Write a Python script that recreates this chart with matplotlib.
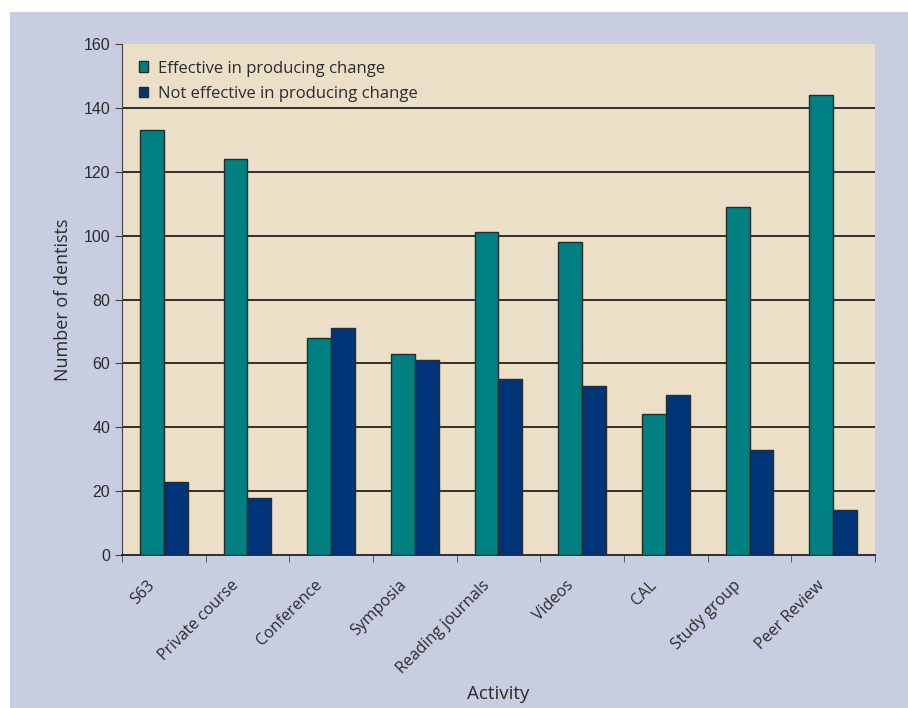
import numpy as np
import matplotlib.pyplot as plt
from matplotlib.patches import Rectangle

activities = ["S63", "Private course", "Conference", "Symposia", "Reading journals",
              "Videos", "CAL", "Study group", "Peer Review"]
effective = [133, 124, 68, 63, 101, 98, 44, 109, 144]
not_effective = [23, 18, 71, 61, 55, 53, 50, 33, 14]
y_ticks = [0, 20, 40, 60, 80, 100, 120, 140, 160]

teal = "#008080"
navy = "#003478"
panel = "#c9cde1"
plot_bg = "#ebdfc8"
text_col = "#2b2b2b"
label_font = ["Open Sans", "DejaVu Sans"]

fig = plt.figure(figsize=(9.08, 7.08), dpi=100)
fig.patch.set_facecolor("white")
fig.patches.append(Rectangle((10 / 908, 0), 1, (708 - 12) / 708,
                             transform=fig.transFigure, facecolor=panel,
                             edgecolor="none", zorder=-1))

ax = fig.add_axes([122 / 908, (708 - 555) / 708, (875 - 122) / 908, (555 - 44) / 708])
ax.set_facecolor(plot_bg)

x = np.arange(len(activities))
w = 0.285
ax.bar(x - w / 2, effective, w, color=teal, edgecolor="#2a2a2a", linewidth=1,
       label="Effective in producing change", zorder=3)
ax.bar(x + w / 2, not_effective, w, color=navy, edgecolor="#2a2a2a", linewidth=1,
       label="Not effective in producing change", zorder=3)

ax.set_xlim(-0.5, len(activities) - 0.5)
ax.set_ylim(0, 160)
ax.set_yticks(y_ticks)
for v in y_ticks[1:-1]:
    ax.axhline(v, color="#222222", linewidth=1.3, zorder=1)

# labels anchored a little left of the group centre, like the original
ax.set_xticks(x - 0.2)
ax.set_xticklabels(activities, rotation=45, ha="right", rotation_mode="anchor",
                   fontsize=11.5, color=text_col, family=label_font)
ax.set_xticks(np.arange(len(activities) + 1) - 0.5, minor=True)
ax.tick_params(axis="x", which="major", length=0, pad=16)
ax.tick_params(axis="x", which="minor", length=5, color="#444444")
ax.tick_params(axis="y", length=5, color="#444444", labelsize=11.5, labelcolor=text_col)
for lab in ax.get_yticklabels():
    lab.set_family(["Liberation Sans", "DejaVu Sans"])

for s in ["top", "right"]:
    ax.spines[s].set_visible(False)
ax.spines["left"].set_color("#444444")
ax.spines["bottom"].set_color("#222222")
ax.spines["bottom"].set_linewidth(1.3)

ax.set_ylabel("Number of dentists", fontsize=13, color=text_col,
              family=label_font, labelpad=8)
ax.set_xlabel("Activity", fontsize=13.5, color=text_col, family=label_font)
ax.xaxis.set_label_coords(0.5, -0.255)

leg = ax.legend(loc="upper left", frameon=False, handlelength=0.55,
                handleheight=0.6, handletextpad=0.6, labelspacing=0.55,
                borderaxespad=0.6, prop={"family": label_font, "size": 12})
for t in leg.get_texts():
    t.set_color(text_col)

fig.savefig("out.png", dpi=100)
